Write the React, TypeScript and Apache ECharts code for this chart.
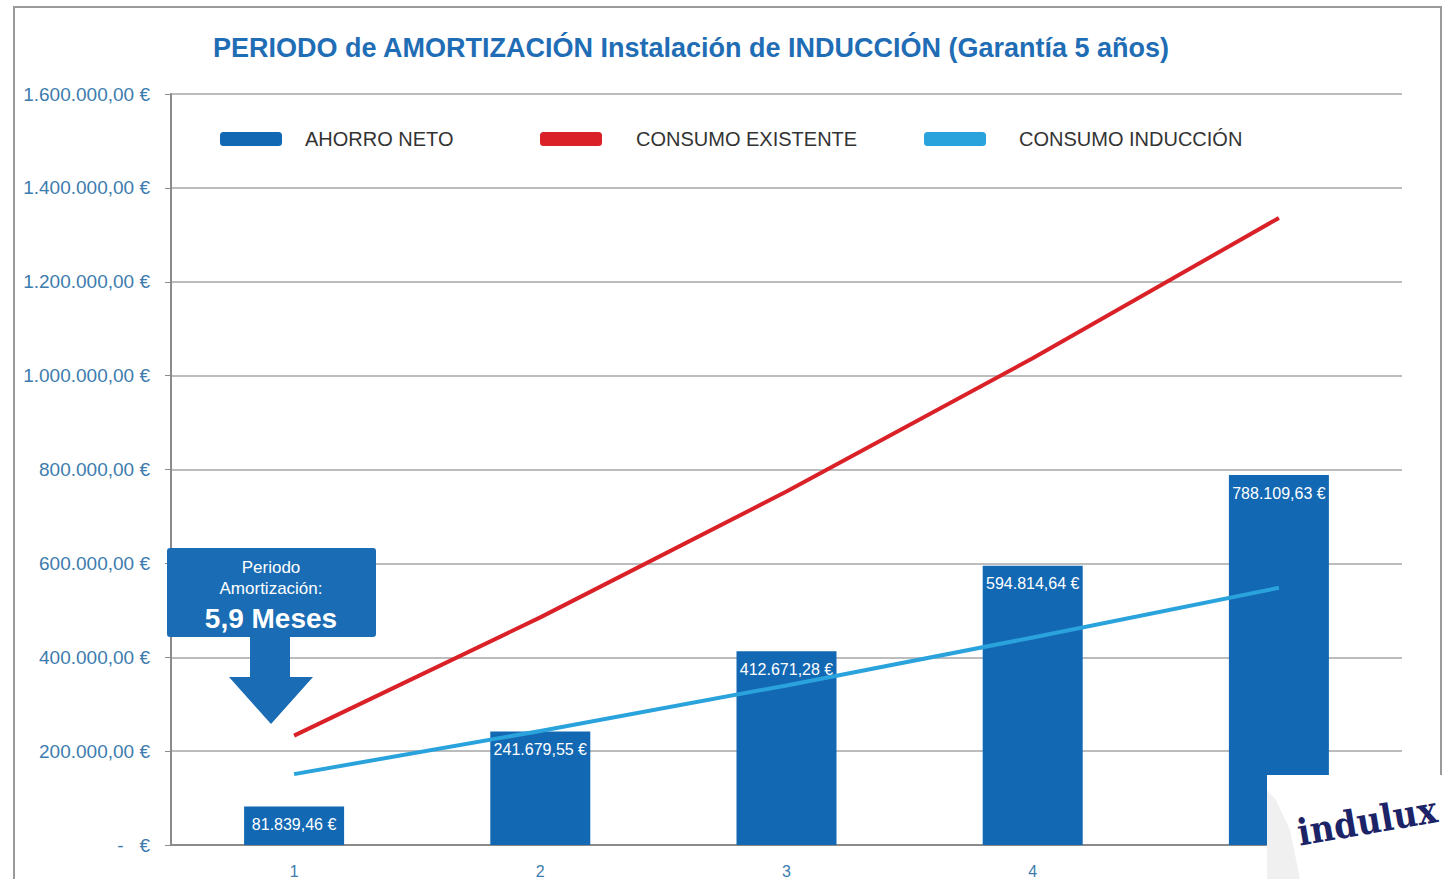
import React, { useEffect, useRef } from "react";
import * as echarts from "echarts";

const years = ["1", "2", "3", "4", "5"];
const ahorroNeto = [81839.46, 241679.55, 412671.28, 594814.64, 788109.63];
const consumoExistente = [233000, 485000, 753000, 1037000, 1336000];
const consumoInduccion = [151000, 243000, 340000, 442000, 548000];
const yTicks = { min: 0, max: 1600000, interval: 200000 };

const BLUE = "#1268b3";
const RED = "#da2128";
const CYAN = "#2aa3dd";
const AXIS_TEXT = "#3d7cae";

function fmtEuro(v: number): string {
  const fixed = v.toFixed(2);
  const [ip, dp] = fixed.split(".");
  const withDots = ip.replace(/\B(?=(\d{3})+(?!\d))/g, ".");
  return withDots + "," + dp + " €";
}

export default function App() {
  const ref = useRef<HTMLDivElement>(null);
  useEffect(() => {
    document.body.style.margin = "0";
    const chart = echarts.init(ref.current!, null, { renderer: "svg" });
    const legendBase = (padLeft: number) => ({
      top: 129,
      itemWidth: 62,
      itemHeight: 14,
      icon: "roundRect",
      padding: 0,
      textStyle: {
        fontFamily: "Liberation Sans, Arial, sans-serif",
        fontSize: 20,
        color: "#333",
        padding: [0, 0, 0, padLeft],
      },
    });
    chart.setOption({
      animation: false,
      backgroundColor: "#fff",
      title: {
        text: "PERIODO de AMORTIZACIÓN Instalación de INDUCCIÓN (Garantía 5 años)",
        left: 208,
        top: 29,
        textStyle: {
          fontFamily: "Liberation Sans, Arial, sans-serif",
          fontWeight: "bold",
          fontSize: 27,
          color: "#1f6db5",
        },
      },
      legend: [
        { ...legendBase(18), left: 220, data: ["AHORRO NETO"] },
        { ...legendBase(29), left: 540, data: ["CONSUMO EXISTENTE"] },
        { ...legendBase(28), left: 924, data: ["CONSUMO INDUCCIÓN"] },
      ],
      grid: { left: 171, right: 43, top: 94, bottom: 33, containLabel: false },
      xAxis: {
        type: "category",
        data: years,
        axisLine: { lineStyle: { color: "#8a8a8a", width: 2 } },
        axisTick: { alignWithLabel: true, length: 5, lineStyle: { color: "#8a8a8a" } },
        axisLabel: {
          color: AXIS_TEXT,
          fontSize: 16,
          margin: 18,
          fontFamily: "Liberation Sans, Arial, sans-serif",
        },
      },
      yAxis: {
        type: "value",
        min: yTicks.min,
        max: yTicks.max,
        interval: yTicks.interval,
        axisLine: { show: true, lineStyle: { color: "#8a8a8a", width: 2 } },
        axisTick: { show: true, length: 6, lineStyle: { color: "#8a8a8a" } },
        splitLine: { lineStyle: { color: "#a6a6a6", width: 1.5 } },
        axisLabel: {
          color: AXIS_TEXT,
          fontSize: 19,
          margin: 21,
          fontFamily: "Liberation Sans, Arial, sans-serif",
          formatter: (v: number) => (v === 0 ? "-   €" : fmtEuro(v)),
        },
      },
      series: [
        {
          name: "AHORRO NETO",
          type: "bar",
          data: ahorroNeto,
          barWidth: 100,
          itemStyle: { color: BLUE },
          z: 2,
          label: {
            show: true,
            position: "insideTop",
            distance: 10,
            color: "#fff",
            fontSize: 16,
            fontFamily: "Liberation Sans, Arial, sans-serif",
            formatter: (p: any) => fmtEuro(p.value),
          },
        },
        {
          name: "CONSUMO EXISTENTE",
          type: "line",
          data: consumoExistente,
          symbol: "none",
          itemStyle: { color: RED },
          lineStyle: { color: RED, width: 4 },
          z: 3,
        },
        {
          name: "CONSUMO INDUCCIÓN",
          type: "line",
          data: consumoInduccion,
          symbol: "none",
          itemStyle: { color: CYAN },
          lineStyle: { color: CYAN, width: 4 },
          z: 4,
        },
      ],
      graphic: [
        {
          type: "rect",
          z: 0,
          silent: true,
          shape: { x: 14, y: 7, width: 1427, height: 900 },
          style: { fill: "none", stroke: "#9a9a9a", lineWidth: 2 },
        },
        {
          type: "rect",
          z: 100,
          shape: { x: 167, y: 548, width: 209, height: 89, r: 3 },
          style: { fill: "#1a6cb4" },
        },
        {
          type: "polygon",
          z: 100,
          shape: {
            points: [
              [250, 636],
              [290, 636],
              [290, 677],
              [313, 677],
              [271, 724],
              [229, 677],
              [250, 677],
            ],
          },
          style: { fill: "#1a6cb4" },
        },
        {
          type: "text",
          z: 101,
          x: 271,
          y: 567,
          style: {
            text: "Periodo",
            fill: "#fff",
            fontSize: 17,
            fontFamily: "Liberation Sans, Arial, sans-serif",
            textAlign: "center",
            textVerticalAlign: "middle",
          },
        },
        {
          type: "text",
          z: 101,
          x: 271,
          y: 588,
          style: {
            text: "Amortización:",
            fill: "#fff",
            fontSize: 17,
            fontFamily: "Liberation Sans, Arial, sans-serif",
            textAlign: "center",
            textVerticalAlign: "middle",
          },
        },
        {
          type: "text",
          z: 101,
          x: 271,
          y: 618,
          style: {
            text: "5,9 Meses",
            fill: "#fff",
            fontSize: 28,
            fontWeight: "bold",
            fontFamily: "Liberation Sans, Arial, sans-serif",
            textAlign: "center",
            textVerticalAlign: "middle",
          },
        },
        {
          type: "rect",
          z: 100,
          shape: { x: 1267, y: 775, width: 180, height: 110 },
          style: { fill: "#ffffff" },
        },
        {
          type: "polygon",
          z: 101,
          shape: {
            points: [
              [1267, 790],
              [1276, 800],
              [1290, 830],
              [1300, 879],
              [1267, 879],
            ],
          },
          style: { fill: "#f0f0f0" },
        },
        {
          type: "text",
          z: 102,
          x: 1367,
          y: 821,
          rotation: 0.17,
          style: {
            text: "indulux",
            fill: "#1c2467",
            fontSize: 37,
            fontWeight: "bold",
            fontFamily: "DejaVu Serif Condensed, DejaVu Serif, serif",
            textAlign: "center",
            textVerticalAlign: "middle",
          },
        },
      ],
    });
    return () => chart.dispose();
  }, []);
  return <div ref={ref} style={{ width: 1445, height: 879 }} />;
}
